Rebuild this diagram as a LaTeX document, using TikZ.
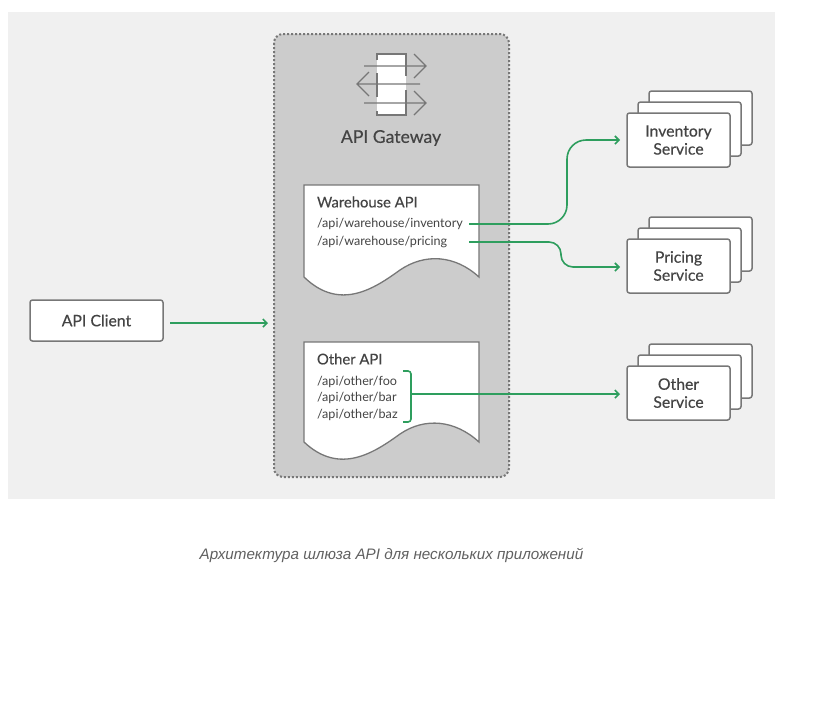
\documentclass[tikz,border=0pt]{standalone}
\usepackage{fontspec}
\setmainfont{Lato}
\newfontfamily\headfont[FakeBold=0.35]{Lato}
\newfontfamily\captionfont{Liberation Sans}
\usetikzlibrary{arrows.meta,positioning}
\definecolor{panelgray}{HTML}{F0F0F0}
\definecolor{gatewaygray}{HTML}{CCCCCC}
\definecolor{linegray}{HTML}{777777}
\definecolor{textgray}{HTML}{444444}
\definecolor{routegreen}{HTML}{2E9E5E}
\begin{document}
\begin{tikzpicture}[
    x=1pt, y=-1pt,
    every node/.style={inner sep=0pt, outer sep=0pt, text=textgray},
    box/.style={draw=linegray, line width=1.5pt, rounded corners=2.5pt, fill=white, align=center, font=\headfont\fontsize{15.8}{18}\selectfont},
    svc/.style={box, minimum width=103pt, minimum height=54pt},
    title/.style={anchor=west, font=\headfont\fontsize{14.8}{16}\selectfont},
    apipath/.style={anchor=west, font=\fontsize{12.6}{14}\selectfont},
    arrow/.style={-{Straight Barb[length=4pt, width=8pt]}, routegreen, line width=1.6pt},
    route/.style={routegreen, line width=1.6pt},
    docshape/.style={draw=linegray, line width=1.3pt, fill=white},
    icon/.style={linegray, line width=2pt},
    iconarrow/.style={linegray, line width=1.3pt}
  ]
    \useasboundingbox (0,0) rectangle (824,724);
    \fill[panelgray] (8,12) rectangle (775,499);
    \draw[fill=gatewaygray, draw=linegray, line width=2pt, dotted, rounded corners=9pt] (274,34) rectangle (509,477);

    % gateway icon
    \fill[white] (377,54) rectangle (406,115);
    \draw[icon] (377,60) |- (406,54) -- (406,76);
    \draw[icon] (406,90) -- (406,115) -- (377,115) -- (377,111);
    \draw[icon] (377,73) -- (377,97);
    \draw[iconarrow] (364,66) -- (426,66) (414,54) -- (426,66) -- (414,78);
    \draw[iconarrow] (420,84) -- (357,84) (369,72) -- (357,84) -- (369,96);
    \draw[iconarrow] (364,103) -- (426,103) (414,91) -- (426,103) -- (414,115);
    \node[font=\headfont\fontsize{17.6}{20}\selectfont] (gateway) at (391,138) {API Gateway};

    % documents
    \draw[docshape] (304,185) -- (479,185) -- (479,277) .. controls (455,255) and (425,253) .. (400,270) .. controls (375,288) and (340,312) .. (304,277) -- cycle;
    \draw[docshape] (304,342) -- (479,342) -- (479,442) .. controls (455,420) and (425,417) .. (400,434) .. controls (375,452) and (340,476) .. (304,442) -- cycle;

    \node[title] (warehouse) at (317,202) {Warehouse API};
    \node[apipath] (whinv) at (317,224) {/api/warehouse/inventory};
    \node[apipath, below=18pt of whinv.west, anchor=west] (whprice) {/api/warehouse/pricing};
    \node[title] (other) at (317,359) {Other API};
    \node[apipath] (foo) at (317,381.5) {/api/other/foo};
    \node[apipath, below=16.5pt of foo.west, anchor=west] (bar) {/api/other/bar};
    \node[apipath, below=16.5pt of bar.west, anchor=west] (baz) {/api/other/baz};

    % services
    \foreach \top/\name/\label in {113/inventory/Inventory\\Service, 239/pricing/Pricing\\Service, 366/otherservice/Other\\Service} {
      \node[svc] at (700.5,\top+5) {};
      \node[svc] at (689.5,\top+16) {};
      \node[svc] (\name) at (678.5,\top+27) {\label};
    }
    \node[box, minimum width=133pt, minimum height=41pt] (client) at (96.5,320.5) {API Client};

    % routes
    \coordinate (gatewayedge) at (274,323);
    \coordinate (invstart) at (463,224);
    \coordinate (pricestart) at (463,242);
    \coordinate (invbend) at (567,140);
    \coordinate (pricebend) at (561,267);
    \coordinate (bracket) at (411,394);
    \draw[arrow, shorten <=7pt, shorten >=6pt] (client.east |- gatewayedge) -- (gatewayedge);
    \draw[arrow, rounded corners=19pt, shorten <=6pt, shorten >=7pt] (invstart) -| (invbend) -- (inventory.west |- invbend);
    \draw[arrow, rounded corners=12pt, shorten <=6pt, shorten >=7pt] (pricestart) -| (pricebend) -- (pricing.west |- pricebend);
    \draw[route, rounded corners=3pt] (403,371) -- (411,371) -- (411,422) -- (403,422);
    \draw[arrow, shorten >=7pt] (bracket) -- (otherservice.west |- bracket);

    \node[font=\captionfont\itshape\fontsize{15.2}{18}\selectfont, text=textgray!85] (caption) at (391.5,555) {Архитектура шлюза API для нескольких приложений};
  \end{tikzpicture}
\end{document}
